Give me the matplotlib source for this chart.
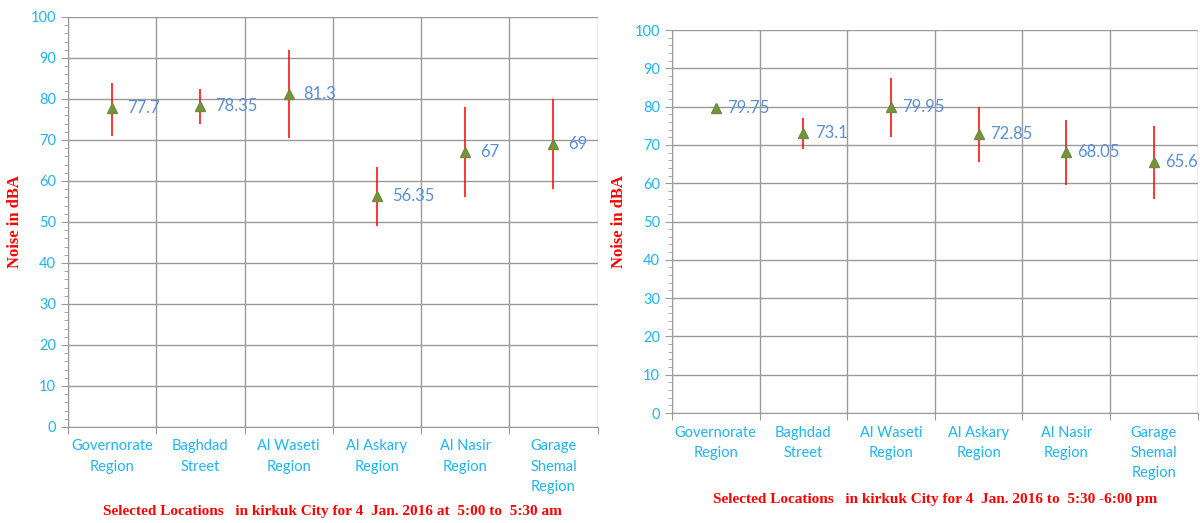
import matplotlib.pyplot as plt
from matplotlib.ticker import MultipleLocator, FixedLocator

# categories (shared by both panels)
locations = ['Governorate\nRegion', 'Baghdad\nStreet', 'Al Waseti\nRegion',
             'Al Askary\nRegion', 'Al Nasir\nRegion', 'Garage\nShemal\nRegion']

# morning 5:00-5:30 am
am_mean = [77.7, 78.35, 81.3, 56.35, 67, 69]
am_low = [71, 74, 70.5, 49, 56, 58]
am_high = [84, 82.5, 92, 63.5, 78, 80]

# evening 5:30-6:00 pm
pm_mean = [79.75, 73.1, 79.95, 72.85, 68.05, 65.6]
pm_low = [79.2, 69, 72, 65.5, 59.5, 56]
pm_high = [80.3, 77, 87.5, 80, 76.5, 75]

am_title = 'Selected Locations   in kirkuk City for 4  Jan. 2016 at  5:00 to  5:30 am'
pm_title = 'Selected Locations   in kirkuk City for 4  Jan. 2016 to  5:30 -6:00 pm'

tick_col = '#1EB4F0'
lab_col = '#5B8FD6'
grid_col = '#9A9A9A'

fig = plt.figure(figsize=(12, 5.23), dpi=100)
ax1 = fig.add_axes([0.0567, 0.1836, 0.4413, 0.784])
ax2 = fig.add_axes([0.56, 0.2103, 0.438, 0.7323])


def draw(ax, mean, low, high, title, title_y, ylab_x, lab_dx):
    xs = [i + 0.5 for i in range(len(mean))]
    yerr = [[m - l for m, l in zip(mean, low)], [h - m for m, h in zip(mean, high)]]
    ax.errorbar(xs, mean, yerr=yerr, fmt='none', ecolor='red', elinewidth=1.1, zorder=3)
    ax.plot(xs, mean, linestyle='none', marker='^', markersize=7,
            color='#77933C', markeredgecolor='#6E8B3D', zorder=4)
    for x, m in zip(xs, mean):
        ax.text(x + lab_dx, m, f'{m:g}', color=lab_col, fontsize=12,
                family='Lato', va='center', ha='left', zorder=5)

    ax.set_xlim(0, 6)
    ax.set_ylim(0, 100)
    ax.yaxis.set_major_locator(MultipleLocator(10))
    ax.yaxis.set_minor_locator(MultipleLocator(2))
    ax.xaxis.set_major_locator(FixedLocator(range(7)))
    ax.xaxis.set_minor_locator(FixedLocator(xs))
    ax.set_xticklabels([])
    ax.set_xticklabels(locations, minor=True)
    ax.tick_params(axis='x', which='minor', length=0, pad=9, labelcolor=tick_col,
                   labelsize=10.5)
    ax.tick_params(axis='x', which='major', length=5, color=grid_col)
    ax.tick_params(axis='y', which='major', length=5, color=grid_col,
                   labelcolor=tick_col, labelsize=10.5)
    ax.tick_params(axis='y', which='minor', length=3, color=grid_col)
    for lb in ax.get_xticklabels(minor=True):
        lb.set_family('Lato')
        lb.set_linespacing(1.55)
    for lb in ax.get_yticklabels():
        lb.set_family('Lato')

    ax.grid(True, which='major', color=grid_col, linewidth=1)
    ax.set_axisbelow(True)
    for s in ['top', 'right']:
        ax.spines[s].set_visible(False)
    for s in ['left', 'bottom']:
        ax.spines[s].set_color(grid_col)

    ax.text(0.5, title_y, title, transform=ax.transAxes, ha='center', va='center',
            color='red', fontsize=11, fontweight='bold', family='Liberation Serif')
    ax.set_ylabel('Noise in dBA', color='red', fontsize=12, fontweight='bold',
                  family='Liberation Serif')
    ax.yaxis.set_label_coords(ylab_x, 0.5)


draw(ax1, am_mean, am_low, am_high, am_title, -0.205, -0.085, 0.17)
draw(ax2, pm_mean, pm_low, pm_high, pm_title, -0.225, -0.085, 0.13)

fig.savefig('out.png', dpi=100)
